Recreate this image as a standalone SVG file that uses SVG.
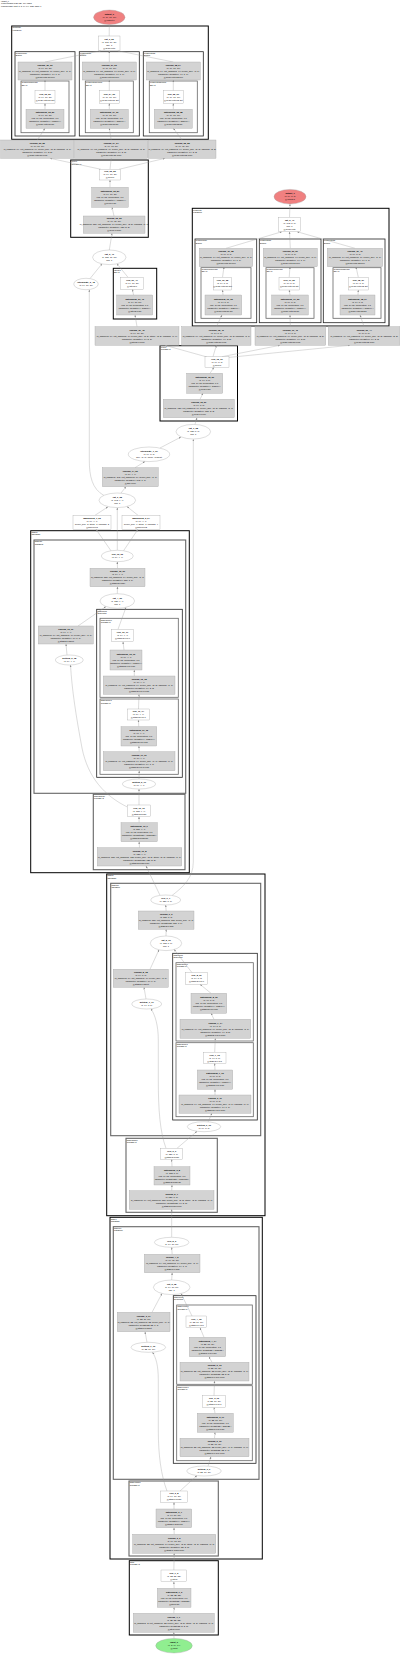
<svg xmlns="http://www.w3.org/2000/svg" width="400" height="1656" viewBox="0 0 400 1656">
<style>
text{font-family:"Liberation Sans",Arial,sans-serif;font-size:2.2px;text-anchor:middle;fill:#000}
.b{font-weight:bold}
text.cl{text-anchor:start;font-size:1.9px}
.g{fill:#d3d3d3;stroke:#a0a0a0;stroke-width:0.35}
.w{fill:#fff;stroke:#a0a0a0;stroke-width:0.35}
.red{fill:#f08080;stroke:#a0a0a0;stroke-width:0.35}
.grn{fill:#90ee90;stroke:#a0a0a0;stroke-width:0.35}
.k0{fill:none;stroke:#000;stroke-width:1}
.k1{fill:none;stroke:#666;stroke-width:1.1}
.k2{fill:none;stroke:#222;stroke-width:0.8}
.k3{fill:none;stroke:#666;stroke-width:0.8}
#edges path{fill:none;stroke:#999;stroke-width:0.35;marker-end:url(#a)}
</style>
<defs>
<marker id="a" viewBox="0 0 10 10" refX="10" refY="5" markerWidth="2.2" markerHeight="2.2" markerUnits="userSpaceOnUse" orient="auto"><path d="M0,1 L10,5 L0,9 z" fill="#888"/></marker>
</defs>
<rect width="400" height="1656" fill="#fff"/>
<text class="cl" x="1" y="2.3">HRNet_0</text>
<text class="cl" x="1" y="4.4">1.31M params (5.25 MB), 104 edges</text>
<text class="cl" x="1" y="6.5">Forward pass: input (1, 3, 64, 64), fp32, batch=1</text>

<g id="clusters">
<g id="c_head0"><rect class="k0" x="11.7" y="26" width="196.6" height="113.3"/><text class="cl" x="12.5" y="28.4">head/out0</text><text class="cl" x="12.5" y="30.6">FuseBlock</text></g>
<g id="c_head0_b0"><rect class="k2" x="15" y="51.7" width="60" height="84.3"/><text class="cl" x="15.8" y="54.1">head/out0/b0</text><text class="cl" x="15.8" y="56.3">Branch</text></g>
<g id="c_head0_b1"><rect class="k2" x="79.3" y="51.7" width="60" height="84.3"/><text class="cl" x="80.1" y="54.1">head/out0/b1</text><text class="cl" x="80.1" y="56.3">Branch</text></g>
<g id="c_head0_b2"><rect class="k2" x="143.3" y="51.7" width="60" height="84.3"/><text class="cl" x="144.1" y="54.1">head/out0/b2</text><text class="cl" x="144.1" y="56.3">Branch</text></g>
<g id="c_head0_b0n"><rect class="k3" x="21" y="81" width="48" height="51.7"/><text class="cl" x="21.8" y="83.4">head/out0/b0/norm</text><text class="cl" x="21.8" y="85.6">BNAct</text></g>
<g id="c_head0_b1n"><rect class="k3" x="85.3" y="81" width="48" height="51.7"/><text class="cl" x="86.1" y="83.4">head/out0/b1/norm</text><text class="cl" x="86.1" y="85.6">BNAct</text></g>
<g id="c_head0_b2n"><rect class="k3" x="149.3" y="81" width="48" height="51.7"/><text class="cl" x="150.1" y="83.4">head/out0/b2/norm</text><text class="cl" x="150.1" y="85.6">BNAct</text></g>
<g id="c_neck0"><rect class="k0" x="70.7" y="160" width="77.6" height="77.3"/><text class="cl" x="71.5" y="162.4">neck/0</text><text class="cl" x="71.5" y="164.6">ConvBNAct</text></g>
<g id="c_lat0"><rect class="k0" x="113.3" y="268.3" width="43.4" height="50.7"/><text class="cl" x="114.1" y="270.7">lateral/0</text><text class="cl" x="114.1" y="272.9">BNAct</text></g>
<g id="c_head1"><rect class="k0" x="192.3" y="208.3" width="196.7" height="117.7"/><text class="cl" x="193.1" y="210.7">head/out1</text><text class="cl" x="193.1" y="212.9">FuseBlock</text></g>
<g id="c_head1_b0"><rect class="k2" x="195" y="239" width="61.7" height="83.7"/><text class="cl" x="195.8" y="241.4">head/out1/b0</text><text class="cl" x="195.8" y="243.6">Branch</text></g>
<g id="c_head1_b1"><rect class="k2" x="259.3" y="239" width="61.7" height="83.7"/><text class="cl" x="260.1" y="241.4">head/out1/b1</text><text class="cl" x="260.1" y="243.6">Branch</text></g>
<g id="c_head1_b2"><rect class="k2" x="323.3" y="239" width="61.7" height="83.7"/><text class="cl" x="324.1" y="241.4">head/out1/b2</text><text class="cl" x="324.1" y="243.6">Branch</text></g>
<g id="c_head1_b0n"><rect class="k3" x="201" y="267.7" width="50" height="50.6"/><text class="cl" x="201.8" y="270.1">head/out1/b0/norm</text><text class="cl" x="201.8" y="272.3">BNAct</text></g>
<g id="c_head1_b1n"><rect class="k3" x="266" y="267.7" width="48" height="50.6"/><text class="cl" x="266.8" y="270.1">head/out1/b1/norm</text><text class="cl" x="266.8" y="272.3">BNAct</text></g>
<g id="c_head1_b2n"><rect class="k3" x="333" y="267.7" width="48" height="50.6"/><text class="cl" x="333.8" y="270.1">head/out1/b2/norm</text><text class="cl" x="333.8" y="272.3">BNAct</text></g>
<g id="c_neck1"><rect class="k0" x="160" y="345.7" width="77.5" height="75.3"/><text class="cl" x="160.8" y="348.1">neck/1</text><text class="cl" x="160.8" y="350.3">ConvBNAct</text></g>

<g id="c_stage3"><rect class="k0" x="30.7" y="530.7" width="158.6" height="342"/><text class="cl" x="31.5" y="533.1">stage3</text><text class="cl" x="31.5" y="535.3">CSPStage</text></g>
<g id="c_stage3_0"><rect class="k1" x="34" y="540" width="151.7" height="253.3"/><text class="cl" x="34.8" y="542.4">stage3/0</text><text class="cl" x="34.8" y="544.6">CSPBlock</text></g>
<g id="c_stage3_0_m"><rect class="k2" x="96.7" y="609.3" width="85.6" height="168"/><text class="cl" x="97.5" y="611.7">stage3/0/m</text><text class="cl" x="97.5" y="613.9">Sequential</text></g>
<g id="c_stage3_0_m0"><rect class="k3" x="100" y="618.3" width="78.3" height="79"/><text class="cl" x="100.8" y="620.7">stage3/0/m/0</text><text class="cl" x="100.8" y="622.9">ConvBNAct</text></g>
<g id="c_stage3_0_m1"><rect class="k3" x="100" y="699" width="78.3" height="75.3"/><text class="cl" x="100.8" y="701.4">stage3/0/m/1</text><text class="cl" x="100.8" y="703.6">ConvBNAct</text></g>
<g id="c_stage3_down"><rect class="k1" x="93.3" y="794.3" width="91.7" height="75.4"/><text class="cl" x="94.1" y="796.7">stage3/down</text><text class="cl" x="94.1" y="798.9">ConvBNAct</text></g>

<g id="c_stage2"><rect class="k0" x="106.7" y="874" width="158.3" height="341.7"/><text class="cl" x="107.5" y="876.4">stage2</text><text class="cl" x="107.5" y="878.6">CSPStage</text></g>
<g id="c_stage2_0"><rect class="k1" x="110.7" y="883.3" width="150" height="252.4"/><text class="cl" x="111.5" y="885.7">stage2/0</text><text class="cl" x="111.5" y="887.9">CSPBlock</text></g>
<g id="c_stage2_0_m"><rect class="k2" x="172.7" y="953.3" width="84.6" height="166.7"/><text class="cl" x="173.5" y="955.7">stage2/0/m</text><text class="cl" x="173.5" y="957.9">Sequential</text></g>
<g id="c_stage2_0_m0"><rect class="k3" x="176" y="962.7" width="77.3" height="78.3"/><text class="cl" x="176.8" y="965.1">stage2/0/m/0</text><text class="cl" x="176.8" y="967.3">ConvBNAct</text></g>
<g id="c_stage2_0_m1"><rect class="k3" x="176" y="1042.7" width="77.3" height="74"/><text class="cl" x="176.8" y="1045.1">stage2/0/m/1</text><text class="cl" x="176.8" y="1047.3">ConvBNAct</text></g>
<g id="c_stage2_down"><rect class="k1" x="126" y="1138.3" width="91.3" height="74"/><text class="cl" x="126.8" y="1140.7">stage2/down</text><text class="cl" x="126.8" y="1142.9">ConvBNAct</text></g>

<g id="c_stage1"><rect class="k0" x="110" y="1217.3" width="152.3" height="341.7"/><text class="cl" x="110.8" y="1219.7">stage1</text><text class="cl" x="110.8" y="1221.9">CSPStage</text></g>
<g id="c_stage1_0"><rect class="k1" x="113.3" y="1226.7" width="145.7" height="252.6"/><text class="cl" x="114.1" y="1229.1">stage1/0</text><text class="cl" x="114.1" y="1231.3">CSPBlock</text></g>
<g id="c_stage1_0_m"><rect class="k2" x="173.3" y="1295.7" width="82.7" height="167.6"/><text class="cl" x="174.1" y="1298.1">stage1/0/m</text><text class="cl" x="174.1" y="1300.3">Sequential</text></g>
<g id="c_stage1_0_m0"><rect class="k3" x="176.7" y="1305" width="75.6" height="79.3"/><text class="cl" x="177.5" y="1307.4">stage1/0/m/0</text><text class="cl" x="177.5" y="1309.6">ConvBNAct</text></g>
<g id="c_stage1_0_m1"><rect class="k3" x="176.7" y="1385.7" width="75.6" height="75"/><text class="cl" x="177.5" y="1388.1">stage1/0/m/1</text><text class="cl" x="177.5" y="1390.3">ConvBNAct</text></g>
<g id="c_stage1_down"><rect class="k1" x="129" y="1481" width="89.3" height="75"/><text class="cl" x="129.8" y="1483.4">stage1/down</text><text class="cl" x="129.8" y="1485.6">ConvBNAct</text></g>
<g id="c_stem"><rect class="k0" x="129.3" y="1560.7" width="89" height="74.3"/><text class="cl" x="130.1" y="1563.1">stem</text><text class="cl" x="130.1" y="1565.3">ConvBNAct</text></g>
</g>

<g id="edges">
<path d="M109.2,36 L109.3,24.6"/>
<path d="M45,62 L101,50.7"/>
<path d="M109.3,62 L109.3,50.7"/>
<path d="M173.3,62 L117.5,50.7"/>
<path d="M45,90.7 L45,80"/>
<path d="M109.3,90.7 L109.3,80"/>
<path d="M173.3,90.7 L173.3,80"/>
<path d="M45,109.3 L45,103.3"/>
<path d="M109.3,109.3 L109.3,103.3"/>
<path d="M173.3,109.3 L173.3,103.3"/>
<path d="M37.35,140 L45,128.3"/>
<path d="M111.2,140 L109.3,128.3"/>
<path d="M182.15,140 L173.3,128.3"/>
<path d="M101,169.3 L50,158.3"/>
<path d="M110,169.3 L111.2,158.3"/>
<path d="M119,169.3 L165,158.3"/>
<path d="M110,187.3 L110,180"/>
<path d="M114,216 L112,207.3"/>
<path d="M109.3,250 L112,233.3"/>
<path d="M90,278.6 L102,263.8"/>
<path d="M128,277.3 L117,263.8"/>
<path d="M133.5,295 L132.5,289.3"/>
<path d="M137,326.7 L135,315"/>
<path d="M216.35,326.7 L222,315"/>
<path d="M290.35,326.7 L290,315"/>
<path d="M364.15,326.7 L360,315"/>
<path d="M223,295 L222.5,290"/>
<path d="M290,295 L289.2,290"/>
<path d="M358,295 L358.3,290"/>
<path d="M222.5,277.3 L224,266.7"/>
<path d="M289.2,277.3 L290,266.7"/>
<path d="M358.3,277.3 L356,266.7"/>
<path d="M226,248.3 L282,231.7"/>
<path d="M290.3,248.3 L289.5,231.7"/>
<path d="M355,248.3 L297,231.7"/>
<path d="M289.5,217.3 L290,204"/>
<path d="M207,357 L165,345.3"/>
<path d="M213,356.7 L216.35,345.3"/>
<path d="M222,356.7 L280,345.3"/>
<path d="M228,357.5 L350,345.3"/>
<path d="M210,373.3 L214,367.3"/>
<path d="M200,399.3 L203,393.3"/>
<path d="M195,424.4 L197,417.7"/>
<path d="M160,448 L181,437"/>
<path d="M135,467.7 L145,461.5"/>
<path d="M121,493 L126,486.7"/>
<path d="M104,495.5 C92,489 89.3,476 89.3,460 L89.3,289.6"/>
<path d="M95,515.3 L108,506.8"/>
<path d="M138,515.3 L127,506.6"/>
<path d="M111,550.8 L96,529.3"/>
<path d="M123.5,550.8 L138,529.3"/>
<path d="M117.3,550.3 L117.3,507.6"/>
<path d="M117.5,568.3 L117.3,561.7"/>
<path d="M117.3,593.7 L117.5,586.7"/>
<path d="M78,626 L106,606.5"/>
<path d="M118,629.3 L126,607.3"/>
<path d="M67,655 L66,644"/>
<path d="M124,650 L123,641.7"/>
<path d="M134.3,676 L134.3,670"/>
<path d="M138.5,709 L139,694.3"/>
<path d="M138.8,726.7 L138.4,720"/>
<path d="M139.2,751.7 L138.9,746"/>
<path d="M139,779 L139.2,770.7"/>
<path d="M139,805 L139,789"/>
<path d="M127.3,807 C105,796 88,778 82,748 C76,716 72,690 70.5,665"/>
<path d="M139.1,822.7 L139,816.7"/>
<path d="M139.5,847.7 L139.1,841.7"/>
<path d="M160,895.3 L146,866"/>
<path d="M172,895.5 C183,887 193.3,878 193.3,862 L193.3,439.2"/>
<path d="M166.15,911 L165.7,905"/>
<path d="M166,936 L166.15,929.3"/>
<path d="M150,969.3 L159,949.7"/>
<path d="M192,972.7 L174,949.3"/>
<path d="M146,999 L144,987.3"/>
<path d="M211,993.3 L200,984.3"/>
<path d="M214,1019.3 L211,1013.3"/>
<path d="M214.7,1052.3 L215.3,1038.3"/>
<path d="M215,1070 L214.7,1063.3"/>
<path d="M215,1095 L215,1089.3"/>
<path d="M208,1122 L212,1113.3"/>
<path d="M177,1148.3 L197,1131.3"/>
<path d="M166,1148.3 C160,1132 158.3,1110 158.3,1080 L158.3,1040 C158.3,1025 155,1015 151,1008.7"/>
<path d="M172,1166.7 L171.7,1159.3"/>
<path d="M171.7,1190.7 L172,1185"/>
<path d="M171.7,1237.3 L171.7,1209.3"/>
<path d="M172.15,1254.3 L171.7,1247.3"/>
<path d="M171.7,1280 L172.15,1272.7"/>
<path d="M152,1312.3 L162,1293.5"/>
<path d="M192,1316 L181,1293.5"/>
<path d="M147,1342.3 L145,1331.7"/>
<path d="M204,1337.3 L200,1327.7"/>
<path d="M212,1362.3 L209,1356.7"/>
<path d="M214,1395.7 L214.5,1381"/>
<path d="M215,1413.3 L214,1407.3"/>
<path d="M214.5,1438.3 L215,1432.3"/>
<path d="M208,1466.2 L211,1456.7"/>
<path d="M180,1491 L197,1475.6"/>
<path d="M167,1491 C161,1475 158.3,1455 158.3,1430 L158.3,1380 C158.3,1365 156,1358 152.5,1352.2"/>
<path d="M174,1509 L174,1502.3"/>
<path d="M174.2,1534.3 L174,1527.7"/>
<path d="M173.85,1570 L174.2,1553.3"/>
<path d="M174.15,1588.3 L173.85,1581.7"/>
<path d="M173.8,1613.3 L174.1,1607.3"/>
<path d="M174,1638.4 L173.8,1632.3"/>
</g>

<g id="nodes">
<g id="output_0"><ellipse class="red" cx="109.3" cy="17.3" rx="15.7" ry="7.3"/><text x="109.3" y="15.05"><tspan class="b">output_0</tspan><tspan x="109.3" dy="3">(1, 64, 16, 16)</tspan><tspan x="109.3" dy="3">@output.0</tspan></text></g>
<g id="cat_0_65"><rect class="w" x="98.3" y="36" width="21.7" height="14.7"/><text x="109.15" y="39.6"><tspan class="b">cat_0_65</tspan><tspan x="109.15" dy="3">(1, 192, 16, 16)</tspan><tspan x="109.15" dy="3">dim=1</tspan><tspan x="109.15" dy="3">@head.out0</tspan></text></g>

<g id="conv2d_26_62"><rect class="g" x="18" y="62" width="54" height="18"/><text x="45" y="65.75"><tspan class="b">conv2d_26_62</tspan><tspan x="45" dy="3">(1, 64, 16, 16)</tspan><tspan x="45" dy="3">in_channels=64, out_channels=64, kernel_size=(1, 1)</tspan><tspan x="45" dy="3">parameter: weight(64, 64, 1, 1)</tspan><tspan x="45" dy="3">@head.out0.b0.proj</tspan></text></g>
<g id="conv2d_27_63"><rect class="g" x="82.3" y="62" width="54" height="18"/><text x="109.3" y="65.75"><tspan class="b">conv2d_27_63</tspan><tspan x="109.3" dy="3">(1, 64, 16, 16)</tspan><tspan x="109.3" dy="3">in_channels=64, out_channels=64, kernel_size=(1, 1)</tspan><tspan x="109.3" dy="3">parameter: weight(64, 64, 1, 1)</tspan><tspan x="109.3" dy="3">@head.out0.b1.proj</tspan></text></g>
<g id="conv2d_28_64"><rect class="g" x="146.3" y="62" width="54" height="18"/><text x="173.3" y="65.75"><tspan class="b">conv2d_28_64</tspan><tspan x="173.3" dy="3">(1, 64, 16, 16)</tspan><tspan x="173.3" dy="3">in_channels=64, out_channels=64, kernel_size=(1, 1)</tspan><tspan x="173.3" dy="3">parameter: weight(64, 64, 1, 1)</tspan><tspan x="173.3" dy="3">@head.out0.b2.proj</tspan></text></g>
<g id="relu_23_59"><rect class="w" x="35" y="90.7" width="20" height="12.6"/><text x="45" y="94.75"><tspan class="b">relu_23_59</tspan><tspan x="45" dy="3">(1, 64, 16, 16)</tspan><tspan x="45" dy="3">@head.out0.b0.act</tspan></text></g>
<g id="relu_24_60"><rect class="w" x="99.3" y="90.7" width="20" height="12.6"/><text x="109.3" y="94.75"><tspan class="b">relu_24_60</tspan><tspan x="109.3" dy="3">(1, 64, 16, 16)</tspan><tspan x="109.3" dy="3">@head.out0.b1.act</tspan></text></g>
<g id="relu_25_61"><rect class="w" x="163.3" y="90.7" width="20" height="12.6"/><text x="173.3" y="94.75"><tspan class="b">relu_25_61</tspan><tspan x="173.3" dy="3">(1, 64, 16, 16)</tspan><tspan x="173.3" dy="3">@head.out0.b2.act</tspan></text></g>
<g id="batchnorm_23_56"><rect class="g" x="26" y="109.3" width="38" height="19"/><text x="45" y="112.55"><tspan class="b">batchnorm_23_56</tspan><tspan x="45" dy="3">(1, 64, 16, 16)</tspan><tspan x="45" dy="3">eps=1e-05, momentum=0.1</tspan><tspan x="45" dy="3">parameter: weight(64,), bias(64,)</tspan><tspan x="45" dy="3">@head.out0.b0.bn</tspan></text></g>
<g id="batchnorm_24_57"><rect class="g" x="90.3" y="109.3" width="38" height="19"/><text x="109.3" y="112.55"><tspan class="b">batchnorm_24_57</tspan><tspan x="109.3" dy="3">(1, 64, 16, 16)</tspan><tspan x="109.3" dy="3">eps=1e-05, momentum=0.1</tspan><tspan x="109.3" dy="3">parameter: weight(64,), bias(64,)</tspan><tspan x="109.3" dy="3">@head.out0.b1.bn</tspan></text></g>
<g id="batchnorm_25_58"><rect class="g" x="154.3" y="109.3" width="38" height="19"/><text x="173.3" y="112.55"><tspan class="b">batchnorm_25_58</tspan><tspan x="173.3" dy="3">(1, 64, 16, 16)</tspan><tspan x="173.3" dy="3">eps=1e-05, momentum=0.1</tspan><tspan x="173.3" dy="3">parameter: weight(64,), bias(64,)</tspan><tspan x="173.3" dy="3">@head.out0.b2.bn</tspan></text></g>
<g id="conv2d_23_53"><rect class="g" x="0.7" y="140" width="73.3" height="18.3"/><text x="37.35" y="143.9"><tspan class="b">conv2d_23_53</tspan><tspan x="37.35" dy="3">(1, 64, 16, 16)</tspan><tspan x="37.35" dy="3">in_channels=64, out_channels=64, kernel_size=(3, 3), padding=(1, 1)</tspan><tspan x="37.35" dy="3">parameter: weight(64, 64, 3, 3)</tspan><tspan x="37.35" dy="3">@head.out0.b0.conv</tspan></text></g>
<g id="conv2d_24_54"><rect class="g" x="74.7" y="140" width="73" height="18.3"/><text x="111.2" y="143.9"><tspan class="b">conv2d_24_54</tspan><tspan x="111.2" dy="3">(1, 64, 16, 16)</tspan><tspan x="111.2" dy="3">in_channels=64, out_channels=64, kernel_size=(3, 3), padding=(2, 2)</tspan><tspan x="111.2" dy="3">parameter: weight(64, 64, 3, 3)</tspan><tspan x="111.2" dy="3">@head.out0.b1.conv</tspan></text></g>
<g id="conv2d_25_55"><rect class="g" x="148.3" y="140" width="67.7" height="18.3"/><text x="182.15" y="143.9"><tspan class="b">conv2d_25_55</tspan><tspan x="182.15" dy="3">(1, 64, 16, 16)</tspan><tspan x="182.15" dy="3">in_channels=64, out_channels=64, kernel_size=(3, 3), padding=(3, 3)</tspan><tspan x="182.15" dy="3">parameter: weight(64, 64, 3, 3)</tspan><tspan x="182.15" dy="3">@head.out0.b2.conv</tspan></text></g>

<g id="relu_22_52"><rect class="w" x="99.5" y="169.3" width="21" height="10.7"/><text x="110" y="172.4"><tspan class="b">relu_22_52</tspan><tspan x="110" dy="3">(1, 64, 16, 16)</tspan><tspan x="110" dy="3">@neck.0</tspan></text></g>
<g id="batchnorm_22_51"><rect class="g" x="91.7" y="187.3" width="36.6" height="20"/><text x="110" y="192.05"><tspan class="b">batchnorm_22_51</tspan><tspan x="110" dy="3">(1, 64, 16, 16)</tspan><tspan x="110" dy="3">eps=1e-05, momentum=0.1</tspan><tspan x="110" dy="3">parameter: weight(64,), bias(64,)</tspan><tspan x="110" dy="3">@neck.0.bn</tspan></text></g>
<g id="conv2d_22_50"><rect class="g" x="83.3" y="216" width="61.7" height="17.3"/><text x="114.15" y="219.4"><tspan class="b">conv2d_22_50</tspan><tspan x="114.15" dy="3">(1, 64, 16, 16)</tspan><tspan x="114.15" dy="3">in_channels=128, out_channels=64, kernel_size=(3, 3), padding=(1, 1)</tspan><tspan x="114.15" dy="3">parameter: weight(64, 128, 3, 3)</tspan><tspan x="114.15" dy="3">@neck.0.conv</tspan></text></g>
<g id="cat_3_49"><ellipse class="w" cx="109.3" cy="257.3" rx="16.7" ry="7.3"/><text x="109.3" y="255.05"><tspan class="b">cat_3_49</tspan><tspan x="109.3" dy="3">(1, 128, 16, 16)</tspan><tspan x="109.3" dy="3">dim=1</tspan></text></g>
<g id="interpolate_2_48"><ellipse class="w" cx="86" cy="284" rx="12.3" ry="5.7"/><text x="86" y="283.25"><tspan class="b">interpolate_2_48</tspan><tspan x="86" dy="3">(1, 64, 16, 16)</tspan></text></g>
<g id="relu_21_47"><rect class="w" x="120.7" y="277.3" width="22.6" height="12"/><text x="132" y="281.05"><tspan class="b">relu_21_47</tspan><tspan x="132" dy="3">(1, 64, 16, 16)</tspan><tspan x="132" dy="3">@lateral.0</tspan></text></g>
<g id="batchnorm_21_46"><rect class="g" x="116.7" y="295" width="36" height="20"/><text x="134.7" y="299.75"><tspan class="b">batchnorm_21_46</tspan><tspan x="134.7" dy="3">(1, 64, 16, 16)</tspan><tspan x="134.7" dy="3">eps=1e-05, momentum=0.1</tspan><tspan x="134.7" dy="3">parameter: weight(64,), bias(64,)</tspan><tspan x="134.7" dy="3">@lateral.0.bn</tspan></text></g>
<g id="conv2d_21_45"><rect class="g" x="95" y="326.7" width="84" height="18.6"/><text x="137" y="330.75"><tspan class="b">conv2d_21_45</tspan><tspan x="137" dy="3">(1, 64, 16, 16)</tspan><tspan x="137" dy="3">in_channels=64, out_channels=64, kernel_size=(2, 2), stride=(2, 2), padding=(0, 0)</tspan><tspan x="137" dy="3">parameter: weight(64, 64, 2, 2)</tspan><tspan x="137" dy="3">@lateral.0.conv</tspan></text></g>
<g id="conv2d_18_42"><rect class="g" x="181.7" y="326.7" width="69.3" height="18.6"/><text x="216.35" y="330.75"><tspan class="b">conv2d_18_42</tspan><tspan x="216.35" dy="3">(1, 64, 8, 8)</tspan><tspan x="216.35" dy="3">in_channels=64, out_channels=64, kernel_size=(3, 3), padding=(1, 1)</tspan><tspan x="216.35" dy="3">parameter: weight(64, 64, 3, 3)</tspan><tspan x="216.35" dy="3">@head.out1.b0.conv</tspan></text></g>
<g id="conv2d_19_43"><rect class="g" x="255" y="326.7" width="70.7" height="18.6"/><text x="290.35" y="330.75"><tspan class="b">conv2d_19_43</tspan><tspan x="290.35" dy="3">(1, 64, 8, 8)</tspan><tspan x="290.35" dy="3">in_channels=64, out_channels=64, kernel_size=(3, 3), padding=(2, 2)</tspan><tspan x="290.35" dy="3">parameter: weight(64, 64, 3, 3)</tspan><tspan x="290.35" dy="3">@head.out1.b1.conv</tspan></text></g>
<g id="conv2d_20_44"><rect class="g" x="328.3" y="326.7" width="71.7" height="18.6"/><text x="364.15" y="330.75"><tspan class="b">conv2d_20_44</tspan><tspan x="364.15" dy="3">(1, 64, 8, 8)</tspan><tspan x="364.15" dy="3">in_channels=64, out_channels=64, kernel_size=(3, 3), padding=(3, 3)</tspan><tspan x="364.15" dy="3">parameter: weight(64, 64, 3, 3)</tspan><tspan x="364.15" dy="3">@head.out1.b2.conv</tspan></text></g>

<g id="output_1"><ellipse class="red" cx="290" cy="196.7" rx="16" ry="7.3"/><text x="290" y="194.45"><tspan class="b">output_1</tspan><tspan x="290" dy="3">(1, 64, 8, 8)</tspan><tspan x="290" dy="3">@output.1</tspan></text></g>
<g id="cat_2_41"><rect class="w" x="278.3" y="217.3" width="22.4" height="14.4"/><text x="289.5" y="220.75"><tspan class="b">cat_2_41</tspan><tspan x="289.5" dy="3">(1, 192, 8, 8)</tspan><tspan x="289.5" dy="3">dim=1</tspan><tspan x="289.5" dy="3">@head.out1</tspan></text></g>
<g id="conv2d_19_38"><rect class="g" x="199.3" y="248.3" width="53.4" height="18.4"/><text x="226" y="252.25"><tspan class="b">conv2d_19_38</tspan><tspan x="226" dy="3">(1, 64, 8, 8)</tspan><tspan x="226" dy="3">in_channels=64, out_channels=64, kernel_size=(1, 1)</tspan><tspan x="226" dy="3">parameter: weight(64, 64, 1, 1)</tspan><tspan x="226" dy="3">@head.out1.b0.proj</tspan></text></g>
<g id="conv2d_20_39"><rect class="g" x="263.3" y="248.3" width="54" height="18.4"/><text x="290.3" y="252.25"><tspan class="b">conv2d_20_39</tspan><tspan x="290.3" dy="3">(1, 64, 8, 8)</tspan><tspan x="290.3" dy="3">in_channels=64, out_channels=64, kernel_size=(1, 1)</tspan><tspan x="290.3" dy="3">parameter: weight(64, 64, 1, 1)</tspan><tspan x="290.3" dy="3">@head.out1.b1.proj</tspan></text></g>
<g id="conv2d_21_40"><rect class="g" x="327.3" y="248.3" width="55.4" height="18.4"/><text x="355" y="252.25"><tspan class="b">conv2d_21_40</tspan><tspan x="355" dy="3">(1, 64, 8, 8)</tspan><tspan x="355" dy="3">in_channels=64, out_channels=64, kernel_size=(1, 1)</tspan><tspan x="355" dy="3">parameter: weight(64, 64, 1, 1)</tspan><tspan x="355" dy="3">@head.out1.b2.proj</tspan></text></g>
<g id="relu_16_35"><rect class="w" x="213.3" y="277.3" width="18.4" height="12.7"/><text x="222.5" y="281.4"><tspan class="b">relu_16_35</tspan><tspan x="222.5" dy="3">(1, 64, 8, 8)</tspan><tspan x="222.5" dy="3">@head.out1.b0.act</tspan></text></g>
<g id="relu_17_36"><rect class="w" x="279" y="277.3" width="20.3" height="12.7"/><text x="289.15" y="281.4"><tspan class="b">relu_17_36</tspan><tspan x="289.15" dy="3">(1, 64, 8, 8)</tspan><tspan x="289.15" dy="3">@head.out1.b1.act</tspan></text></g>
<g id="relu_18_37"><rect class="w" x="348.3" y="277.3" width="20" height="12.7"/><text x="358.3" y="281.4"><tspan class="b">relu_18_37</tspan><tspan x="358.3" dy="3">(1, 64, 8, 8)</tspan><tspan x="358.3" dy="3">@head.out1.b2.act</tspan></text></g>
<g id="batchnorm_16_32"><rect class="g" x="205" y="295" width="36.7" height="20"/><text x="223.35" y="299.75"><tspan class="b">batchnorm_16_32</tspan><tspan x="223.35" dy="3">(1, 64, 8, 8)</tspan><tspan x="223.35" dy="3">eps=1e-05, momentum=0.1</tspan><tspan x="223.35" dy="3">parameter: weight(64,), bias(64,)</tspan><tspan x="223.35" dy="3">@head.out1.b0.bn</tspan></text></g>
<g id="batchnorm_17_33"><rect class="g" x="271.7" y="295" width="36.6" height="20"/><text x="290" y="299.75"><tspan class="b">batchnorm_17_33</tspan><tspan x="290" dy="3">(1, 64, 8, 8)</tspan><tspan x="290" dy="3">eps=1e-05, momentum=0.1</tspan><tspan x="290" dy="3">parameter: weight(64,), bias(64,)</tspan><tspan x="290" dy="3">@head.out1.b1.bn</tspan></text></g>
<g id="batchnorm_18_34"><rect class="g" x="340" y="295" width="35" height="20"/><text x="357.5" y="299.75"><tspan class="b">batchnorm_18_34</tspan><tspan x="357.5" dy="3">(1, 64, 8, 8)</tspan><tspan x="357.5" dy="3">eps=1e-05, momentum=0.1</tspan><tspan x="357.5" dy="3">parameter: weight(64,), bias(64,)</tspan><tspan x="357.5" dy="3">@head.out1.b2.bn</tspan></text></g>

<g id="relu_15_31"><rect class="w" x="205" y="356.7" width="24" height="10.6"/><text x="217" y="359.75"><tspan class="b">relu_15_31</tspan><tspan x="217" dy="3">(1, 64, 8, 8)</tspan><tspan x="217" dy="3">@neck.1</tspan></text></g>
<g id="batchnorm_15_30"><rect class="g" x="186.7" y="373.3" width="36" height="20"/><text x="204.7" y="378.05"><tspan class="b">batchnorm_15_30</tspan><tspan x="204.7" dy="3">(1, 64, 8, 8)</tspan><tspan x="204.7" dy="3">eps=1e-05, momentum=0.1</tspan><tspan x="204.7" dy="3">parameter: weight(64,), bias(64,)</tspan><tspan x="204.7" dy="3">@neck.1.bn</tspan></text></g>
<g id="conv2d_15_29"><rect class="g" x="163.3" y="399.3" width="71" height="18.4"/><text x="198.8" y="403.25"><tspan class="b">conv2d_15_29</tspan><tspan x="198.8" dy="3">(1, 64, 8, 8)</tspan><tspan x="198.8" dy="3">in_channels=128, out_channels=64, kernel_size=(3, 3), padding=(1, 1)</tspan><tspan x="198.8" dy="3">parameter: weight(64, 128, 3, 3)</tspan><tspan x="198.8" dy="3">@neck.1.conv</tspan></text></g>
<g id="cat_1_28"><ellipse class="w" cx="193.3" cy="431.7" rx="17.3" ry="7.3"/><text x="193.3" y="429.45"><tspan class="b">cat_1_28</tspan><tspan x="193.3" dy="3">(1, 128, 8, 8)</tspan><tspan x="193.3" dy="3">dim=1</tspan></text></g>
<g id="interpolate_1_27"><ellipse class="w" cx="149" cy="454.3" rx="20.7" ry="7.3"/><text x="149" y="452.05"><tspan class="b">interpolate_1_27</tspan><tspan x="149" dy="3">(1, 64, 8, 8)</tspan><tspan x="149" dy="3">size=(8, 8), mode=nearest</tspan></text></g>
<g id="conv2d_14_26"><rect class="g" x="102.3" y="467.7" width="56" height="19"/><text x="130.3" y="471.95"><tspan class="b">conv2d_14_26</tspan><tspan x="130.3" dy="3">(1, 64, 4, 4)</tspan><tspan x="130.3" dy="3">in_channels=192, out_channels=64, kernel_size=(1, 1)</tspan><tspan x="130.3" dy="3">parameter: weight(64, 192, 1, 1)</tspan><tspan x="130.3" dy="3">@spp.conv</tspan></text></g>
<g id="cat_0_25"><ellipse class="w" cx="117.3" cy="500.3" rx="18.3" ry="7.3"/><text x="117.3" y="498.05"><tspan class="b">cat_0_25</tspan><tspan x="117.3" dy="3">(1, 192, 4, 4)</tspan><tspan x="117.3" dy="3">dim=1</tspan></text></g>
<g id="maxpool2d_1_23"><rect class="w" x="73" y="515.3" width="38" height="14"/><text x="92" y="518.55"><tspan class="b">maxpool2d_1_23</tspan><tspan x="92" dy="3">(1, 64, 4, 4)</tspan><tspan x="92" dy="3">kernel_size=5, stride=1, padding=2</tspan><tspan x="92" dy="3">@spp.pool1</tspan></text></g>
<g id="maxpool2d_2_24"><rect class="w" x="122" y="515.3" width="38" height="14"/><text x="141" y="518.55"><tspan class="b">maxpool2d_2_24</tspan><tspan x="141" dy="3">(1, 64, 4, 4)</tspan><tspan x="141" dy="3">kernel_size=9, stride=1, padding=4</tspan><tspan x="141" dy="3">@spp.pool2</tspan></text></g>

<g id="relu_13_22"><ellipse class="w" cx="117.3" cy="556" rx="16" ry="5.7"/><text x="117.3" y="555.25"><tspan class="b">relu_13_22</tspan><tspan x="117.3" dy="3">(1, 64, 4, 4)</tspan></text></g>
<g id="conv2d_13_21"><rect class="g" x="90" y="568.3" width="55" height="18.4"/><text x="117.5" y="572.25"><tspan class="b">conv2d_13_21</tspan><tspan x="117.5" dy="3">(1, 64, 4, 4)</tspan><tspan x="117.5" dy="3">in_channels=128, out_channels=64, kernel_size=(1, 1)</tspan><tspan x="117.5" dy="3">parameter: weight(64, 128, 1, 1)</tspan><tspan x="117.5" dy="3">@stage3.0.fuse</tspan></text></g>
<g id="cat_4_20"><ellipse class="w" cx="117.3" cy="601" rx="17.3" ry="7.3"/><text x="117.3" y="598.75"><tspan class="b">cat_4_20</tspan><tspan x="117.3" dy="3">(1, 128, 4, 4)</tspan><tspan x="117.3" dy="3">dim=1</tspan></text></g>
<g id="conv2d_12_19"><rect class="g" x="38.3" y="626" width="55" height="18"/><text x="65.8" y="629.75"><tspan class="b">conv2d_12_19</tspan><tspan x="65.8" dy="3">(1, 64, 4, 4)</tspan><tspan x="65.8" dy="3">in_channels=64, out_channels=64, kernel_size=(1, 1)</tspan><tspan x="65.8" dy="3">parameter: weight(64, 64, 1, 1)</tspan><tspan x="65.8" dy="3">@stage3.0.short</tspan></text></g>
<g id="getitem_3_18"><ellipse class="w" cx="69.3" cy="660" rx="14" ry="5"/><text x="69.3" y="659.25"><tspan class="b">getitem_3_18</tspan><tspan x="69.3" dy="3">(1, 64, 4, 4)</tspan></text></g>
<g id="relu_12_17"><rect class="w" x="111.7" y="629.3" width="21.6" height="12.4"/><text x="122.5" y="633.25"><tspan class="b">relu_12_17</tspan><tspan x="122.5" dy="3">(1, 64, 4, 4)</tspan><tspan x="122.5" dy="3">@stage3.0.m.0</tspan></text></g>
<g id="batchnorm_12_16"><rect class="g" x="110" y="650" width="32" height="20"/><text x="126" y="654.75"><tspan class="b">batchnorm_12_16</tspan><tspan x="126" dy="3">(1, 64, 4, 4)</tspan><tspan x="126" dy="3">eps=1e-05, momentum=0.1</tspan><tspan x="126" dy="3">parameter: weight(64,), bias(64,)</tspan><tspan x="126" dy="3">@stage3.0.m.0.bn</tspan></text></g>
<g id="conv2d_12_15"><rect class="g" x="103.3" y="676" width="71.7" height="18.3"/><text x="139.15" y="679.9"><tspan class="b">conv2d_12_15</tspan><tspan x="139.15" dy="3">(1, 64, 4, 4)</tspan><tspan x="139.15" dy="3">in_channels=64, out_channels=64, kernel_size=(3, 3), padding=(1, 1)</tspan><tspan x="139.15" dy="3">parameter: weight(64, 64, 3, 3)</tspan><tspan x="139.15" dy="3">@stage3.0.m.0.conv</tspan></text></g>
<g id="relu_11_14"><rect class="w" x="127.3" y="709" width="22" height="11"/><text x="138.3" y="712.25"><tspan class="b">relu_11_14</tspan><tspan x="138.3" dy="3">(1, 64, 4, 4)</tspan><tspan x="138.3" dy="3">@stage3.0.m.1</tspan></text></g>
<g id="batchnorm_11_13"><rect class="g" x="121" y="726.7" width="35.7" height="19.3"/><text x="138.85" y="731.1"><tspan class="b">batchnorm_11_13</tspan><tspan x="138.85" dy="3">(1, 64, 4, 4)</tspan><tspan x="138.85" dy="3">eps=1e-05, momentum=0.1</tspan><tspan x="138.85" dy="3">parameter: weight(64,), bias(64,)</tspan><tspan x="138.85" dy="3">@stage3.0.m.1.bn</tspan></text></g>
<g id="conv2d_11_12"><rect class="g" x="103.3" y="751.7" width="71.7" height="19"/><text x="139.15" y="755.95"><tspan class="b">conv2d_11_12</tspan><tspan x="139.15" dy="3">(1, 64, 4, 4)</tspan><tspan x="139.15" dy="3">in_channels=64, out_channels=64, kernel_size=(1, 1), padding=(0, 0)</tspan><tspan x="139.15" dy="3">parameter: weight(64, 64, 1, 1)</tspan><tspan x="139.15" dy="3">@stage3.0.m.1.conv</tspan></text></g>
<g id="getitem_2_11"><ellipse class="w" cx="139" cy="784" rx="16.7" ry="5"/><text x="139" y="783.25"><tspan class="b">getitem_2_11</tspan><tspan x="139" dy="3">(1, 64, 4, 4)</tspan></text></g>
<g id="relu_10_10"><rect class="w" x="127.3" y="805" width="23.4" height="11.7"/><text x="139" y="808.6"><tspan class="b">relu_10_10</tspan><tspan x="139" dy="3">(1, 128, 4, 4)</tspan><tspan x="139" dy="3">@stage3.down</tspan></text></g>
<g id="batchnorm_10_9"><rect class="g" x="121" y="822.7" width="36.3" height="19"/><text x="139.15" y="826.95"><tspan class="b">batchnorm_10_9</tspan><tspan x="139.15" dy="3">(1, 128, 4, 4)</tspan><tspan x="139.15" dy="3">eps=1e-05, momentum=0.1</tspan><tspan x="139.15" dy="3">parameter: weight(128,), bias(128,)</tspan><tspan x="139.15" dy="3">@stage3.down.bn</tspan></text></g>
<g id="conv2d_10_8"><rect class="g" x="97.3" y="847.7" width="84.4" height="18.3"/><text x="139.5" y="851.6"><tspan class="b">conv2d_10_8</tspan><tspan x="139.5" dy="3">(1, 128, 4, 4)</tspan><tspan x="139.5" dy="3">in_channels=128, out_channels=128, kernel_size=(3, 3), stride=(2, 2), padding=(1, 1)</tspan><tspan x="139.5" dy="3">parameter: weight(128, 128, 3, 3)</tspan><tspan x="139.5" dy="3">@stage3.down.conv</tspan></text></g>

<g id="relu_9_7"><ellipse class="w" cx="165.7" cy="900" rx="15" ry="5"/><text x="165.7" y="899.25"><tspan class="b">relu_9_7</tspan><tspan x="165.7" dy="3">(1, 128, 8, 8)</tspan></text></g>
<g id="conv2d_9_6"><rect class="g" x="138.3" y="911" width="55.7" height="18.3"/><text x="166.15" y="914.9"><tspan class="b">conv2d_9_6</tspan><tspan x="166.15" dy="3">(1, 128, 8, 8)</tspan><tspan x="166.15" dy="3">in_channels=128, out_channels=128, kernel_size=(1, 1)</tspan><tspan x="166.15" dy="3">parameter: weight(128, 128, 1, 1)</tspan><tspan x="166.15" dy="3">@stage2.0.fuse</tspan></text></g>
<g id="cat_5_19"><ellipse class="w" cx="166" cy="943.3" rx="15.7" ry="7.3"/><text x="166" y="941.05"><tspan class="b">cat_5_19</tspan><tspan x="166" dy="3">(1, 128, 8, 8)</tspan><tspan x="166" dy="3">dim=1</tspan></text></g>
<g id="conv2d_8_18"><rect class="g" x="113.3" y="969.3" width="55" height="18"/><text x="140.8" y="973.05"><tspan class="b">conv2d_8_18</tspan><tspan x="140.8" dy="3">(1, 64, 8, 8)</tspan><tspan x="140.8" dy="3">in_channels=64, out_channels=64, kernel_size=(1, 1)</tspan><tspan x="140.8" dy="3">parameter: weight(64, 64, 1, 1)</tspan><tspan x="140.8" dy="3">@stage2.0.short</tspan></text></g>
<g id="getitem_1_17"><ellipse class="w" cx="146.7" cy="1004" rx="15" ry="5"/><text x="146.7" y="1003.25"><tspan class="b">getitem_1_17</tspan><tspan x="146.7" dy="3">(1, 64, 8, 8)</tspan></text></g>
<g id="relu_8_16"><rect class="w" x="185.7" y="972.7" width="21.6" height="11.6"/><text x="196.5" y="976.25"><tspan class="b">relu_8_16</tspan><tspan x="196.5" dy="3">(1, 64, 8, 8)</tspan><tspan x="196.5" dy="3">@stage2.0.m.0</tspan></text></g>
<g id="batchnorm_8_15"><rect class="g" x="191" y="993.3" width="35.7" height="20"/><text x="208.85" y="998.05"><tspan class="b">batchnorm_8_15</tspan><tspan x="208.85" dy="3">(1, 64, 8, 8)</tspan><tspan x="208.85" dy="3">eps=1e-05, momentum=0.1</tspan><tspan x="208.85" dy="3">parameter: weight(64,), bias(64,)</tspan><tspan x="208.85" dy="3">@stage2.0.m.0.bn</tspan></text></g>
<g id="conv2d_7_14"><rect class="g" x="180" y="1019.3" width="70.7" height="19"/><text x="215.35" y="1023.55"><tspan class="b">conv2d_7_14</tspan><tspan x="215.35" dy="3">(1, 64, 8, 8)</tspan><tspan x="215.35" dy="3">in_channels=64, out_channels=64, kernel_size=(3, 3), padding=(1, 1)</tspan><tspan x="215.35" dy="3">parameter: weight(64, 64, 3, 3)</tspan><tspan x="215.35" dy="3">@stage2.0.m.0.conv</tspan></text></g>
<g id="relu_7_13"><rect class="w" x="203.3" y="1052.3" width="22.7" height="11"/><text x="214.65" y="1055.55"><tspan class="b">relu_7_13</tspan><tspan x="214.65" dy="3">(1, 64, 8, 8)</tspan><tspan x="214.65" dy="3">@stage2.0.m.1</tspan></text></g>
<g id="batchnorm_7_12"><rect class="g" x="197.3" y="1070" width="35.4" height="19.3"/><text x="215" y="1074.4"><tspan class="b">batchnorm_7_12</tspan><tspan x="215" dy="3">(1, 64, 8, 8)</tspan><tspan x="215" dy="3">eps=1e-05, momentum=0.1</tspan><tspan x="215" dy="3">parameter: weight(64,), bias(64,)</tspan><tspan x="215" dy="3">@stage2.0.m.1.bn</tspan></text></g>
<g id="conv2d_6_11"><rect class="g" x="179" y="1095" width="72" height="18.3"/><text x="215" y="1098.9"><tspan class="b">conv2d_6_11</tspan><tspan x="215" dy="3">(1, 64, 8, 8)</tspan><tspan x="215" dy="3">in_channels=64, out_channels=64, kernel_size=(1, 1), padding=(0, 0)</tspan><tspan x="215" dy="3">parameter: weight(64, 64, 1, 1)</tspan><tspan x="215" dy="3">@stage2.0.m.1.conv</tspan></text></g>
<g id="getitem_0_10"><ellipse class="w" cx="204" cy="1126.7" rx="16.7" ry="5"/><text x="204" y="1125.95"><tspan class="b">getitem_0_10</tspan><tspan x="204" dy="3">(1, 64, 8, 8)</tspan></text></g>
<g id="relu_6_9"><rect class="w" x="160.7" y="1148.3" width="22" height="11"/><text x="171.7" y="1151.55"><tspan class="b">relu_6_9</tspan><tspan x="171.7" dy="3">(1, 128, 8, 8)</tspan><tspan x="171.7" dy="3">@stage2.down</tspan></text></g>
<g id="batchnorm_6_8"><rect class="g" x="154" y="1166.7" width="36" height="18.3"/><text x="172" y="1170.6"><tspan class="b">batchnorm_6_8</tspan><tspan x="172" dy="3">(1, 128, 8, 8)</tspan><tspan x="172" dy="3">eps=1e-05, momentum=0.1</tspan><tspan x="172" dy="3">parameter: weight(128,), bias(128,)</tspan><tspan x="172" dy="3">@stage2.down.bn</tspan></text></g>
<g id="conv2d_5_7"><rect class="g" x="129.3" y="1190.7" width="84.7" height="18.6"/><text x="171.65" y="1194.75"><tspan class="b">conv2d_5_7</tspan><tspan x="171.65" dy="3">(1, 128, 8, 8)</tspan><tspan x="171.65" dy="3">in_channels=64, out_channels=128, kernel_size=(3, 3), stride=(2, 2), padding=(1, 1)</tspan><tspan x="171.65" dy="3">parameter: weight(128, 64, 3, 3)</tspan><tspan x="171.65" dy="3">@stage2.down.conv</tspan></text></g>

<g id="relu_5_6"><ellipse class="w" cx="171.7" cy="1242.3" rx="17.3" ry="5"/><text x="171.7" y="1241.55"><tspan class="b">relu_5_6</tspan><tspan x="171.7" dy="3">(1, 64, 16, 16)</tspan></text></g>
<g id="conv2d_4_5"><rect class="g" x="144.3" y="1254.3" width="55.7" height="18.4"/><text x="172.15" y="1258.25"><tspan class="b">conv2d_4_5</tspan><tspan x="172.15" dy="3">(1, 64, 16, 16)</tspan><tspan x="172.15" dy="3">in_channels=64, out_channels=64, kernel_size=(1, 1)</tspan><tspan x="172.15" dy="3">parameter: weight(64, 64, 1, 1)</tspan><tspan x="172.15" dy="3">@stage1.0.fuse</tspan></text></g>
<g id="cat_6_18"><ellipse class="w" cx="171.7" cy="1287.3" rx="18.3" ry="7.3"/><text x="171.7" y="1285.05"><tspan class="b">cat_6_18</tspan><tspan x="171.7" dy="3">(1, 64, 16, 16)</tspan><tspan x="171.7" dy="3">dim=1</tspan></text></g>
<g id="conv2d_3_17"><rect class="g" x="117.3" y="1312.3" width="52.7" height="19.4"/><text x="143.65" y="1316.75"><tspan class="b">conv2d_3_17</tspan><tspan x="143.65" dy="3">(1, 32, 16, 16)</tspan><tspan x="143.65" dy="3">in_channels=32, out_channels=32, kernel_size=(1, 1)</tspan><tspan x="143.65" dy="3">parameter: weight(32, 32, 1, 1)</tspan><tspan x="143.65" dy="3">@stage1.0.short</tspan></text></g>
<g id="getitem_1_16"><ellipse class="w" cx="148.3" cy="1347.3" rx="17.3" ry="5"/><text x="148.3" y="1346.55"><tspan class="b">getitem_1_16</tspan><tspan x="148.3" dy="3">(1, 32, 16, 16)</tspan></text></g>
<g id="relu_4_15"><rect class="w" x="186" y="1316" width="20.7" height="11.7"/><text x="196.35" y="1319.6"><tspan class="b">relu_4_15</tspan><tspan x="196.35" dy="3">(1, 32, 16, 16)</tspan><tspan x="196.35" dy="3">@stage1.0.m.0</tspan></text></g>
<g id="batchnorm_4_14"><rect class="g" x="189.3" y="1337.3" width="36.4" height="19.4"/><text x="207.5" y="1341.75"><tspan class="b">batchnorm_4_14</tspan><tspan x="207.5" dy="3">(1, 32, 16, 16)</tspan><tspan x="207.5" dy="3">eps=1e-05, momentum=0.1</tspan><tspan x="207.5" dy="3">parameter: weight(32,), bias(32,)</tspan><tspan x="207.5" dy="3">@stage1.0.m.0.bn</tspan></text></g>
<g id="conv2d_3_13"><rect class="g" x="180" y="1362.3" width="69" height="18.7"/><text x="214.5" y="1366.4"><tspan class="b">conv2d_3_13</tspan><tspan x="214.5" dy="3">(1, 32, 16, 16)</tspan><tspan x="214.5" dy="3">in_channels=32, out_channels=32, kernel_size=(3, 3), padding=(1, 1)</tspan><tspan x="214.5" dy="3">parameter: weight(32, 32, 3, 3)</tspan><tspan x="214.5" dy="3">@stage1.0.m.0.conv</tspan></text></g>
<g id="relu_3_12"><rect class="w" x="202.3" y="1395.7" width="23.4" height="11.6"/><text x="214" y="1399.25"><tspan class="b">relu_3_12</tspan><tspan x="214" dy="3">(1, 32, 16, 16)</tspan><tspan x="214" dy="3">@stage1.0.m.1</tspan></text></g>
<g id="batchnorm_3_11"><rect class="g" x="197.3" y="1413.3" width="36" height="19"/><text x="215.3" y="1417.55"><tspan class="b">batchnorm_3_11</tspan><tspan x="215.3" dy="3">(1, 32, 16, 16)</tspan><tspan x="215.3" dy="3">eps=1e-05, momentum=0.1</tspan><tspan x="215.3" dy="3">parameter: weight(32,), bias(32,)</tspan><tspan x="215.3" dy="3">@stage1.0.m.1.bn</tspan></text></g>
<g id="conv2d_2_10"><rect class="g" x="180" y="1438.3" width="69" height="18.4"/><text x="214.5" y="1442.25"><tspan class="b">conv2d_2_10</tspan><tspan x="214.5" dy="3">(1, 32, 16, 16)</tspan><tspan x="214.5" dy="3">in_channels=32, out_channels=32, kernel_size=(1, 1), padding=(0, 0)</tspan><tspan x="214.5" dy="3">parameter: weight(32, 32, 1, 1)</tspan><tspan x="214.5" dy="3">@stage1.0.m.1.conv</tspan></text></g>
<g id="getitem_0_9"><ellipse class="w" cx="204" cy="1471" rx="17.3" ry="5"/><text x="204" y="1470.25"><tspan class="b">getitem_0_9</tspan><tspan x="204" dy="3">(1, 32, 16, 16)</tspan></text></g>
<g id="relu_2_8"><rect class="w" x="160.7" y="1491" width="26.6" height="11.3"/><text x="174" y="1494.4"><tspan class="b">relu_2_8</tspan><tspan x="174" dy="3">(1, 64, 16, 16)</tspan><tspan x="174" dy="3">@stage1.down</tspan></text></g>
<g id="batchnorm_2_7"><rect class="g" x="156" y="1509" width="35.7" height="18.7"/><text x="173.85" y="1513.1"><tspan class="b">batchnorm_2_7</tspan><tspan x="173.85" dy="3">(1, 64, 16, 16)</tspan><tspan x="173.85" dy="3">eps=1e-05, momentum=0.1</tspan><tspan x="173.85" dy="3">parameter: weight(64,), bias(64,)</tspan><tspan x="173.85" dy="3">@stage1.down.bn</tspan></text></g>
<g id="conv2d_2_6"><rect class="g" x="132.7" y="1534.3" width="83" height="19"/><text x="174.2" y="1538.55"><tspan class="b">conv2d_2_6</tspan><tspan x="174.2" dy="3">(1, 64, 16, 16)</tspan><tspan x="174.2" dy="3">in_channels=32, out_channels=64, kernel_size=(3, 3), stride=(2, 2), padding=(1, 1)</tspan><tspan x="174.2" dy="3">parameter: weight(64, 32, 3, 3)</tspan><tspan x="174.2" dy="3">@stage1.down.conv</tspan></text></g>
<g id="relu_1_3"><rect class="w" x="161" y="1570" width="25.7" height="11.7"/><text x="173.85" y="1573.6"><tspan class="b">relu_1_3</tspan><tspan x="173.85" dy="3">(1, 32, 32, 32)</tspan><tspan x="173.85" dy="3">@stem</tspan></text></g>
<g id="batchnorm_1_2"><rect class="g" x="157.3" y="1588.3" width="33.7" height="19"/><text x="174.15" y="1592.55"><tspan class="b">batchnorm_1_2</tspan><tspan x="174.15" dy="3">(1, 32, 32, 32)</tspan><tspan x="174.15" dy="3">eps=1e-05, momentum=0.1</tspan><tspan x="174.15" dy="3">parameter: weight(32,), bias(32,)</tspan><tspan x="174.15" dy="3">@stem.bn</tspan></text></g>
<g id="conv2d_1_1"><rect class="g" x="133.3" y="1613.3" width="81" height="19"/><text x="173.8" y="1617.55"><tspan class="b">conv2d_1_1</tspan><tspan x="173.8" dy="3">(1, 32, 32, 32)</tspan><tspan x="173.8" dy="3">in_channels=3, out_channels=32, kernel_size=(3, 3), stride=(2, 2), padding=(1, 1)</tspan><tspan x="173.8" dy="3">parameter: weight(32, 3, 3, 3)</tspan><tspan x="173.8" dy="3">@stem.conv</tspan></text></g>
<g id="input_0"><ellipse class="grn" cx="174" cy="1645.7" rx="18.3" ry="7.3"/><text x="174" y="1643.45"><tspan class="b">input_0</tspan><tspan x="174" dy="3">(1, 3, 64, 64)</tspan><tspan x="174" dy="3">@input</tspan></text></g>
</g>
</svg>
